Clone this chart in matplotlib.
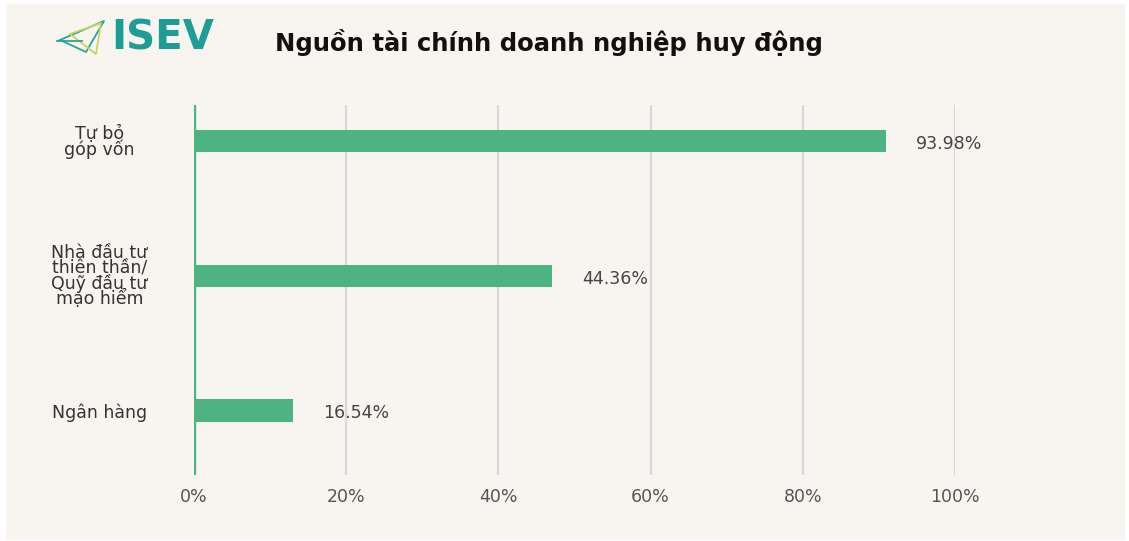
import matplotlib.pyplot as plt
from matplotlib.patches import Rectangle
from matplotlib.lines import Line2D

categories = ['Tự bỏ\ngóp vốn', 'Nhà đầu tư\nthiên thần/\nQuỹ đầu tư\nmạo hiểm', 'Ngân hàng']
bar_values = [90.9, 47.0, 13.0]          # bar lengths as drawn
value_labels = ['93.98%', '44.36%', '16.54%']  # labels as printed
x_ticks = [0, 20, 40, 60, 80, 100]
x_tick_labels = ['0%', '20%', '40%', '60%', '80%', '100%']

W, H = 1129, 541
fig = plt.figure(figsize=(W / 100, H / 100), dpi=100, facecolor='white')
plt.rcParams['font.family'] = ['DejaVu Sans']

# panel background
fig.patches.append(Rectangle((6 / W, 1 - 540 / H), 1119 / W, 536 / H, transform=fig.transFigure,
                             facecolor='#F8F5F0', edgecolor='none', zorder=-10))

ax = fig.add_axes([194 / W, 1 - 475 / H, (955 - 194) / W, 370 / H])
ax.set_facecolor('none')

green = '#4DB383'
ypos = [2, 1, 0]
ax.barh(ypos, bar_values, height=0.165, color=green, zorder=3)
for y, v, lab in zip(ypos, bar_values, value_labels):
    ax.text(v + 4, y - 0.02, lab, va='center', ha='left', fontsize=12.5, color='#444444')

ax.set_xlim(0, 100)
ax.set_ylim(-0.48, 2.27)
ax.set_xticks(x_ticks)
ax.set_xticklabels(x_tick_labels, fontsize=12.5, color='#555555')
ax.set_yticks(ypos)
ax.set_yticklabels(categories, fontsize=12.5, color='#333333', ha='center', linespacing=0.78)
ax.tick_params(axis='y', length=0, pad=68)
ax.tick_params(axis='x', length=0, pad=9)
for x in x_ticks[1:]:
    ax.axvline(x, color='#D9D7DB', lw=1.6, zorder=1)
ax.axvline(0, color=green, lw=2.4, zorder=4)
for s in ax.spines.values():
    s.set_visible(False)

# title
fig.text(275 / W, 1 - 42 / H, 'Nguồn tài chính doanh nghiệp huy động', fontsize=17.5,
         fontweight='bold', color='#111111', va='center', ha='left')

# logo
fig.text(111 / W, 1 - 38 / H, 'ISEV', fontsize=29, fontweight='bold', color='#1E9C96',
         va='center', ha='left')
def px(pts):
    return [p[0] / W for p in pts], [1 - p[1] / H for p in pts]
for pts, c in [([(60, 40), (104, 21), (86, 52), (60, 40)], '#2BA39A'),
               ([(70, 34), (101, 23), (96, 54), (70, 34)], '#C9D45A'),
               ([(57, 41), (82, 41)], '#2BA39A')]:
    xs, ys = px(pts)
    fig.lines.append(Line2D(xs, ys, transform=fig.transFigure, color=c, lw=1.3))

fig.savefig('out.png', dpi=100, facecolor=fig.get_facecolor())
